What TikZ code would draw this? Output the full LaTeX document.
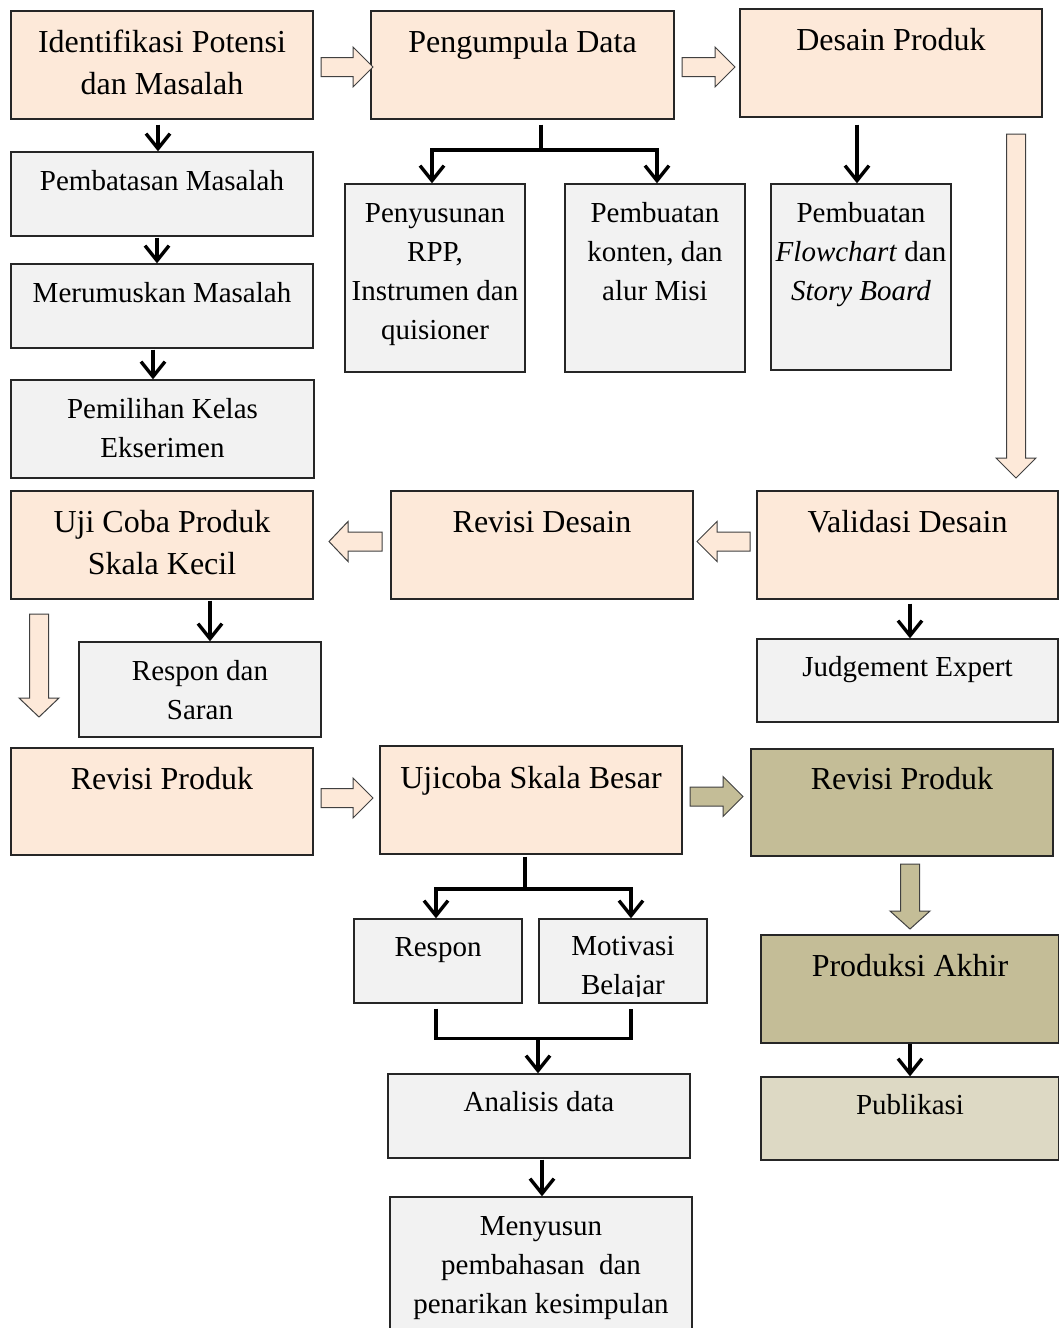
\documentclass[tikz,border=0pt]{standalone}
\usepackage{fontspec}
\setmainfont{Liberation Serif}
\usetikzlibrary{arrows.meta,calc,fit}
\definecolor{peach}{HTML}{FDE9D9}
\definecolor{lgray}{HTML}{F2F2F2}
\definecolor{khaki}{HTML}{C4BD97}
\definecolor{ltan}{HTML}{DDD9C4}
\newcommand\bigtxt{\fontsize{32}{42}\selectfont}
\newcommand\smtxt{\fontsize{29}{39}\selectfont}
\newcommand\blkR[5]{\draw[blk,fill=#5] (#1,{#4-9.5}) -- (#2,{#4-9.5}) -- (#2,{#4-20}) -- (#3,#4) -- (#2,{#4+20}) -- (#2,{#4+9.5}) -- (#1,{#4+9.5}) -- cycle;}
\newcommand\blkD[5]{\draw[blk,fill=#5] ({#4-9.5},#1) -- ({#4-9.5},#2) -- ({#4-20},#2) -- (#4,#3) -- ({#4+20},#2) -- ({#4+9.5},#2) -- ({#4+9.5},#1) -- cycle;}
\begin{document}
\begin{tikzpicture}[x=1pt,y=-1pt,
 box/.style={draw=black!85, line width=1.3pt, inner sep=0pt},
 pbox/.style={box, fill=peach},
 gbox/.style={box, fill=lgray},
 kbox/.style={box, fill=khaki},
 tbox/.style={box, fill=ltan},
 bt/.style={anchor=north, inner sep=0pt, align=center, font=\bigtxt},
 st/.style={anchor=north, inner sep=0pt, align=center, font=\smtxt},
 ln/.style={line width=3.4pt},
 arr/.style={line width=3.4pt, -{Straight Barb[length=15pt,width=24pt]}},
 blk/.style={draw=black!75, line width=1pt, line join=miter},
]
\fill[white] (0,0) rectangle (1059,1328);
\useasboundingbox (0,0) rectangle (1059,1328);

% boxes
\node[pbox, fit={(11,11) (313,119)}] (A) {};
\node[pbox, fit={(371,11) (674,119)}] (B) {};
\node[pbox, fit={(740,9) (1042,117)}] (C) {};
\node[gbox, fit={(11,152) (313,236)}] (P1) {};
\node[gbox, fit={(11,264) (313,348)}] (P2) {};
\node[gbox, fit={(11,380) (314,478)}] (P3) {};
\node[gbox, fit={(345,184) (525,372)}] (Q1) {};
\node[gbox, fit={(565,184) (745,372)}] (Q2) {};
\node[gbox, fit={(771,184) (951,370)}] (Q3) {};
\node[pbox, fit={(11,491) (313,599)}] (U) {};
\node[pbox, fit={(391,491) (693,599)}] (RD) {};
\node[pbox, fit={(757,491) (1058,599)}] (V) {};
\node[gbox, fit={(79,642) (321,737)}] (RS) {};
\node[gbox, fit={(757,639) (1058,722)}] (JE) {};
\node[pbox, fit={(11,748) (313,855)}] (RP) {};
\node[pbox, fit={(380,746) (682,854)}] (UB) {};
\node[kbox, fit={(751,749) (1053,856)}] (RK) {};
\node[kbox, fit={(761,935) (1059,1043)}] (PA) {};
\node[tbox, fit={(761,1077) (1059,1160)}] (PB) {};
\node[gbox, fit={(354,919) (522,1003)}] (R) {};
\node[gbox, fit={(539,919) (707,1003)}] (M) {};
\node[gbox, fit={(388,1074) (690,1158)}] (AD) {};
\node[gbox, fit={(390,1197) (692,1345)}] (MS) {};

% texts
\node[bt] at ($(A.north)+(0,13)$) {\strut Identifikasi Potensi\\dan Masalah};
\node[bt] at ($(B.north)+(0,13)$) {\strut Pengumpula Data};
\node[bt] at ($(C.north)+(0,13)$) {\strut Desain Produk};
\node[st] at ($(P1.north)+(0,12)$) {\strut Pembatasan Masalah};
\node[st] at ($(P2.north)+(0,12)$) {\strut Merumuskan Masalah};
\node[st] at ($(P3.north)+(0,12)$) {\strut Pemilihan Kelas\\Ekserimen};
\node[st] at ($(Q1.north)+(0,12)$) {\strut Penyusunan\\RPP,\\Instrumen dan\\quisioner};
\node[st] at ($(Q2.north)+(0,12)$) {\strut Pembuatan\\konten, dan\\alur Misi};
\node[st] at ($(Q3.north)+(0,12)$) {\strut Pembuatan\\\textit{Flowchart} dan\\\textit{Story Board}};
\node[bt] at ($(U.north)+(0,13)$) {\strut Uji Coba Produk\\Skala Kecil};
\node[bt] at ($(RD.north)+(0,13)$) {\strut Revisi Desain};
\node[bt] at ($(V.north)+(0,13)$) {\strut Validasi Desain};
\node[st] at ($(RS.north)+(0,12)$) {\strut Respon dan\\Saran};
\node[st] at ($(JE.north)+(0,11)$) {\strut Judgement Expert};
\node[bt] at ($(RP.north)+(0,13)$) {\strut Revisi Produk};
\node[bt] at ($(UB.north)+(0,14)$) {\strut Ujicoba Skala Besar};
\node[bt] at ($(RK.north)+(0,12)$) {\strut Revisi Produk};
\node[bt] at ($(PA.north)+(0,13)$) {\strut Produksi Akhir};
\node[st] at ($(PB.north)+(0,11)$) {\strut Publikasi};
\node[st] at ($(R.north)+(0,11)$) {\strut Respon};
\begin{scope}
\clip (M.north west) rectangle ($(M.south east)+(0,-7)$);
\node[st] at ($(M.north)+(0,10)$) {\strut Motivasi\\Belajar};
\end{scope}
\node[st] at ($(AD.north)+(0,11)$) {\strut Analisis data};
\node[st] at ($(MS.north)+(0,12)$) {\strut Menyusun\\pembahasan~ dan\\penarikan kesimpulan};

% black connectors
\draw[arr] ($(158,0 |- A.south)+(0,5)$) -- (158,0 |- P1.north);
\draw[arr] ($(157,0 |- P1.south)+(0,1)$) -- (157,0 |- P2.north);
\draw[arr] ($(153,0 |- P2.south)+(0,1)$) -- (153,0 |- P3.north);
\coordinate (bj) at (541,150);
\draw[ln] ($(541,0 |- B.south)+(0,5)$) -- (bj);
\draw[arr] (bj) -| (432,0 |- Q1.north);
\draw[arr] (bj) -| (657,0 |- Q2.north);
\draw[arr] ($(857,0 |- C.south)+(0,7)$) -- (857,0 |- Q3.north);
\draw[arr] ($(210,0 |- U.south)+(0,1)$) -- (210,0 |- RS.north);
\draw[arr] ($(910,0 |- V.south)+(0,4)$) -- (910,0 |- JE.north);
\draw[arr] (910,0 |- PA.south) -- (910,0 |- PB.north);
\coordinate (uj) at (525,889);
\draw[ln] ($(525,0 |- UB.south)+(0,2)$) -- (uj);
\draw[arr] (uj) -| (436,0 |- R.north);
\draw[arr] (uj) -| (631,0 |- M.north);
\coordinate (mj) at (538,1038);
\draw[ln] ($(436,0 |- R.south)+(0,5)$) |- ($(631,0 |- M.south)+(0,35)$) -- ($(631,0 |- M.south)+(0,5)$);
\draw[arr] (mj) -- (538,0 |- AD.north);
\draw[arr] ($(542,0 |- AD.south)+(0,1)$) -- (542,0 |- MS.north);

% block arrows
\blkR{321}{353}{373}{67}{peach}
\blkR{682}{715}{735}{67}{peach}
\blkR{382}{348}{329}{541.5}{peach}
\blkR{750}{717}{697}{541.5}{peach}
\blkR{321}{353}{373}{798}{peach}
\blkR{690}{723}{743}{796.5}{khaki}
\blkD{134}{458}{478}{1016}{peach}
\blkD{614}{698}{717}{39}{peach}
\blkD{864}{911}{929}{910}{khaki}
\end{tikzpicture}
\end{document}
